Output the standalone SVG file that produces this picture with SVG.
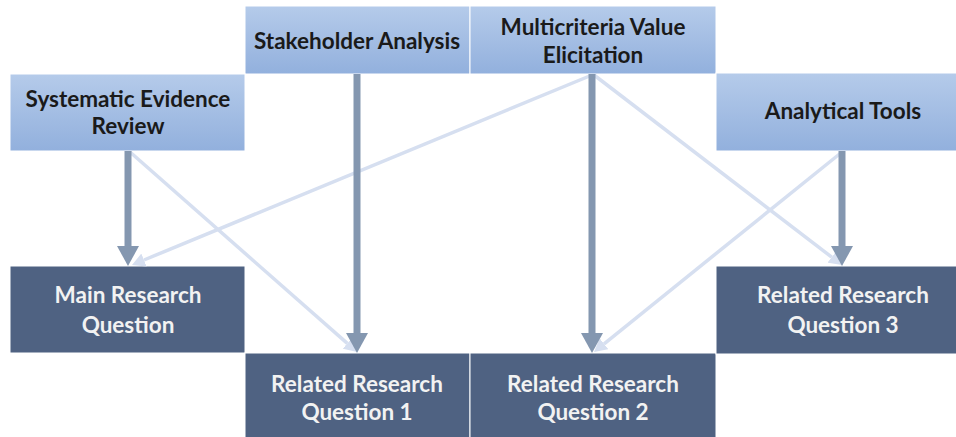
<svg xmlns="http://www.w3.org/2000/svg" width="956" height="437" viewBox="0 0 956 437">
<defs>
<linearGradient id="gTop" x1="0" y1="0" x2="0" y2="1">
<stop offset="0" stop-color="#B5CBEA"/>
<stop offset="1" stop-color="#92B0DD"/>
</linearGradient>
<marker id="ahDark" markerUnits="userSpaceOnUse" markerWidth="20" markerHeight="22" refX="0" refY="11" orient="auto">
<path d="M0,0 L20,11 L0,22 z" fill="#8497B0"/>
</marker>
<marker id="ahLight" markerUnits="userSpaceOnUse" markerWidth="13" markerHeight="14" refX="0" refY="7" orient="auto">
<path d="M0,0 L13,7 L0,14 z" fill="#D6DFF0"/>
</marker>
</defs>
<style>
.top rect{fill:url(#gTop);stroke:#ffffff;stroke-width:1}
.bot rect{fill:#4F6282;stroke:#ffffff;stroke-width:1}
text{font-family:Lato,"Open Sans","Liberation Sans",sans-serif;font-weight:700;font-size:22.5px;text-anchor:middle}
.top text{fill:#1A1A1A}
.bot text{fill:#F2F2F2}
.dark{stroke:#8497B0;stroke-width:7;fill:none;marker-end:url(#ahDark)}
.light{stroke:#D6DFF0;stroke-width:3.5;fill:none;marker-end:url(#ahLight)}
</style>
<rect width="956" height="437" fill="#ffffff"/>
<g id="n-stakeholder" class="top"><rect x="245" y="6" width="225" height="68"/><text x="357" y="49">Stakeholder Analysis</text></g>
<g id="n-multicriteria" class="top"><rect x="470" y="6" width="246" height="68"/><text x="593" y="35">Multicriteria Value</text><text x="593" y="63">Elicitation</text></g>
<g id="n-systematic" class="top"><rect x="10" y="74" width="235" height="77"/><text x="128" y="107">Systematic Evidence</text><text x="128" y="134">Review</text></g>
<g id="n-analytical" class="top"><rect x="716" y="73" width="241" height="78"/><text x="843" y="119">Analytical Tools</text></g>
<g id="n-main" class="bot"><rect x="10" y="266" width="235" height="87"/><text x="128" y="303">Main Research</text><text x="128" y="333">Question</text></g>
<g id="n-rq1" class="bot"><rect x="245" y="353" width="225" height="85"/><text x="357" y="392">Related Research</text><text x="357" y="420">Question 1</text></g>
<g id="n-rq2" class="bot"><rect x="470" y="353" width="246" height="85"/><text x="593" y="392">Related Research</text><text x="593" y="420">Question 2</text></g>
<g id="n-rq3" class="bot"><rect x="716" y="266" width="241" height="88"/><text x="843" y="303">Related Research</text><text x="843" y="333">Question 3</text></g>
<g id="connectors">
<line class="light" x1="130" y1="152" x2="347.3" y2="343.4"/>
<line class="light" x1="592" y1="75" x2="144" y2="260"/>
<line class="light" x1="594" y1="75" x2="831.7" y2="257.1"/>
<line class="light" x1="842" y1="152" x2="604.1" y2="343.8"/>
<line class="dark" x1="128" y1="151" x2="128" y2="246"/>
<line class="dark" x1="357" y1="74" x2="357" y2="333"/>
<line class="dark" x1="592" y1="74" x2="592" y2="333"/>
<line class="dark" x1="842" y1="151" x2="842" y2="246"/>
</g>
</svg>
